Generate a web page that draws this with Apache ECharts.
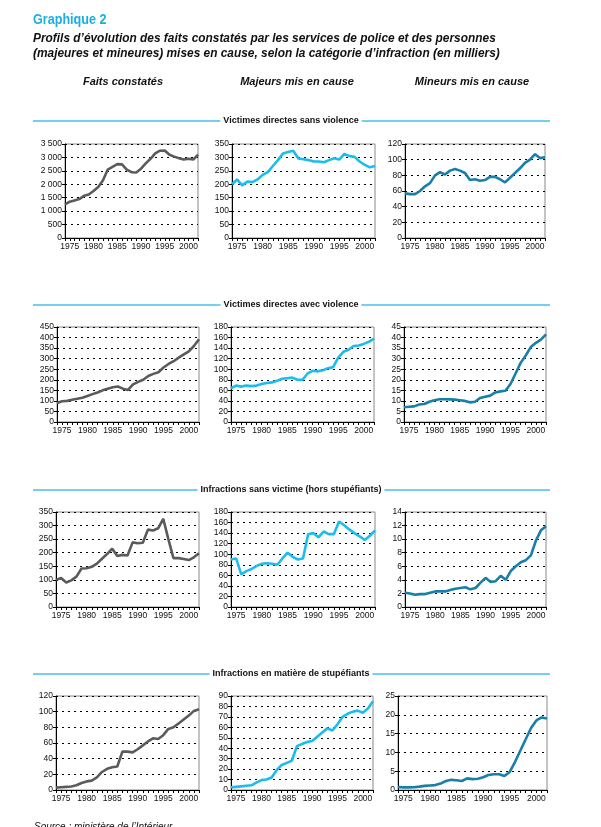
<!DOCTYPE html>
<html><head><meta charset="utf-8">
<script src="https://cdn.jsdelivr.net/npm/echarts@6/dist/echarts.min.js"></script>
<style>html,body{margin:0;padding:0;background:#fff}#c{width:601px;height:827px}</style>
</head><body><div id="c"></div>
<script>
const years = ['1974','1975','1976','1977','1978','1979','1980','1981','1982','1983','1984','1985','1986','1987','1988','1989','1990','1991','1992','1993','1994','1995','1996','1997','1998','1999','2000','2001','2002'];

const columnTitles = ['Faits constatés', 'Majeurs mis en cause', 'Mineurs mis en cause'];
const sectionTitles = ['Victimes directes sans violence', 'Victimes directes avec violence', 'Infractions sans victime (hors stupéfiants)', 'Infractions en matière de stupéfiants'];

// Victimes directes sans violence
const faitsSansViolence = [1250,1350,1400,1450,1570,1620,1750,1900,2150,2550,2650,2750,2740,2550,2450,2440,2580,2780,2950,3150,3250,3260,3100,3030,2970,2920,2950,2920,3100];
const majeursSansViolence = [200,218,196,210,208,218,235,245,268,290,315,320,325,296,293,290,285,285,282,290,297,292,313,305,302,285,272,263,268];
const mineursSansViolence = [57,56,56,60,66,70,80,84,81,86,88,86,83,74,75,73,74,78,78,75,71,77,83,89,96,100,107,102,103];
// Victimes directes avec violence
const faitsAvecViolence = [90,98,100,105,110,115,123,132,140,150,158,165,168,158,152,178,190,200,218,228,236,258,275,288,305,320,335,360,392];
const majeursAvecViolence = [64,69,67,69,68,69,72,74,75,78,82,83,84,80,80,92,97,96,98,102,104,122,133,137,144,145,148,152,158];
const mineursAvecViolence = [7,7.2,7.4,8.3,8.5,9.6,10.3,10.8,10.8,10.7,10.6,10.3,10,9.3,9.6,11.4,12,12.5,14,14.5,14.8,18,23,28,31.5,35.5,37.5,39,41.5];
// Infractions sans victime (hors stupéfiants)
const faitsSansVictime = [100,107,90,98,112,142,143,148,160,178,195,215,188,192,190,238,235,237,285,282,290,325,250,180,180,177,173,183,198];
const majeursSansVictime = [90,92,62,68,72,78,82,83,82,80,92,103,95,90,92,138,140,132,143,138,138,162,155,147,140,134,127,135,145];
const mineursSansVictime = [2.1,2.0,1.8,1.9,1.9,2.1,2.3,2.3,2.3,2.5,2.7,2.8,2.9,2.6,2.8,3.6,4.3,3.7,3.8,4.6,4.0,5.3,6.0,6.6,6.9,7.6,9.8,11.3,11.9];
// Infractions en matière de stupéfiants
const faitsStupefiants = [3,3.5,4,4.5,6,9,11,12,16,23,27,29,30,49,49,48,52,57,62,66,65,70,78,80,85,90,95,101,103];
const majeursStupefiants = [2.5,3,3.5,4,4.5,7,9.5,10,12,19,24,26,28,42,44,46,47,51,55,59,57,63,70,73,75,76,74,78,85];
const mineursStupefiants = [0.8,0.7,0.7,0.75,0.9,1.1,1.2,1.3,1.7,2.4,2.7,2.6,2.4,3.1,2.9,3.0,3.4,4.0,4.2,4.2,3.7,4.8,7.5,10.5,13.5,16.5,18.5,19.3,19.0];

const yMax = [3500, 350, 120, 450, 180, 45, 350, 180, 14, 120, 90, 25];
const yStep = [500, 50, 20, 50, 20, 5, 50, 20, 2, 20, 10, 5];

const seriesData = [
  faitsSansViolence, majeursSansViolence, mineursSansViolence,
  faitsAvecViolence, majeursAvecViolence, mineursAvecViolence,
  faitsSansVictime, majeursSansVictime, mineursSansVictime,
  faitsStupefiants, majeursStupefiants, mineursStupefiants
];
const colors = ['#5b5b5b', '#1bbcee', '#187fa9'];

// layout boxes [left, top, width, height]
const boxes = [
  [65,144,133,94],[232,144,143,94],[405,144,140,94],
  [57,327,142,95],[231,327,143,95],[404,327,142,95],
  [56,512,143,95],[231,512,144,95],[405,512,141,95],
  [56,696,143,94],[231,696,142,94],[398,696,149,94]
];
const sectionY = [121, 305, 490, 674];

const FONT = '"Liberation Sans", Arial, sans-serif';
const fmt = v => String(v).replace(/\B(?=(\d{3})+$)/g, ' ');

const grids = [], xAxes = [], yAxes = [], series = [];
boxes.forEach((b, i) => {
  grids.push({left: b[0], top: b[1], width: b[2], height: b[3], show: true, borderColor: '#8a8a8a', borderWidth: 1, backgroundColor: 'transparent'});
  xAxes.push({
    type: 'category', gridIndex: i, data: years, boundaryGap: false,
    axisLine: {lineStyle: {color: '#000', width: 1}},
    axisTick: {show: true, interval: 0, length: 3, lineStyle: {color: '#000'}},
    axisLabel: {interval: (idx, v) => Number(v) % 5 === 0, fontFamily: FONT, fontSize: 8.5, color: '#111', margin: 4},
    splitLine: {show: false}
  });
  yAxes.push({
    type: 'value', gridIndex: i, min: 0, max: yMax[i], interval: yStep[i],
    axisLine: {show: true, lineStyle: {color: '#000', width: 1}},
    axisTick: {show: true, length: 3, lineStyle: {color: '#000'}},
    axisLabel: {formatter: fmt, fontFamily: FONT, fontSize: 8.5, color: '#111', margin: 3},
    splitLine: {show: true, lineStyle: {color: '#000', width: 1, type: [2, 4]}}
  });
  series.push({
    type: 'line', xAxisIndex: i, yAxisIndex: i, data: seriesData[i],
    symbol: 'none', smooth: false,
    lineStyle: {color: colors[i % 3], width: 2.6}, silent: true, animation: false
  });
});

const NARROW = '"Liberation Sans Narrow", "Liberation Sans", Arial, sans-serif';
const graphics = [
  {type: 'text', x: 33, y: 13, scaleX: 0.9, style: {text: 'Graphique 2', font: 'bold 14px ' + NARROW, fill: '#1aaee5'}},
  {type: 'text', x: 33, y: 32, scaleX: 0.915, style: {text: 'Profils d’évolution des faits constatés par les services de police et des personnes', font: 'italic bold 13px ' + NARROW, fill: '#111'}},
  {type: 'text', x: 33, y: 47, scaleX: 0.915, style: {text: '(majeures et mineures) mises en cause, selon la catégorie d’infraction (en milliers)', font: 'italic bold 13px ' + NARROW, fill: '#111'}},
  {type: 'text', x: 34, y: 822, style: {text: 'Source : ministère de l’Intérieur.', font: 'italic 10px "Liberation Sans", sans-serif', fill: '#111'}}
];
const colX = [123, 297, 472];
columnTitles.forEach((t, i) => {
  graphics.push({type: 'text', x: colX[i], y: 82, style: {text: t, font: 'italic bold 11px "Liberation Sans", Arial, sans-serif', fill: '#111', align: 'center', verticalAlign: 'middle'}});
});
sectionTitles.forEach((t, i) => {
  graphics.push({type: 'line', shape: {x1: 33, y1: sectionY[i], x2: 550, y2: sectionY[i]}, style: {stroke: '#74cff0', lineWidth: 2}});
  graphics.push({type: 'text', x: 291, y: sectionY[i], style: {text: t, font: 'bold 9px "Liberation Sans", Arial, sans-serif', fill: '#111', align: 'center', verticalAlign: 'middle', backgroundColor: '#fff', padding: [1, 3]}});
});

const chart = echarts.init(document.getElementById('c'), null, {renderer: 'canvas'});
chart.setOption({
  animation: false,
  backgroundColor: '#fff',
  grid: grids, xAxis: xAxes, yAxis: yAxes, series: series,
  graphic: graphics
});
</script></body></html>
